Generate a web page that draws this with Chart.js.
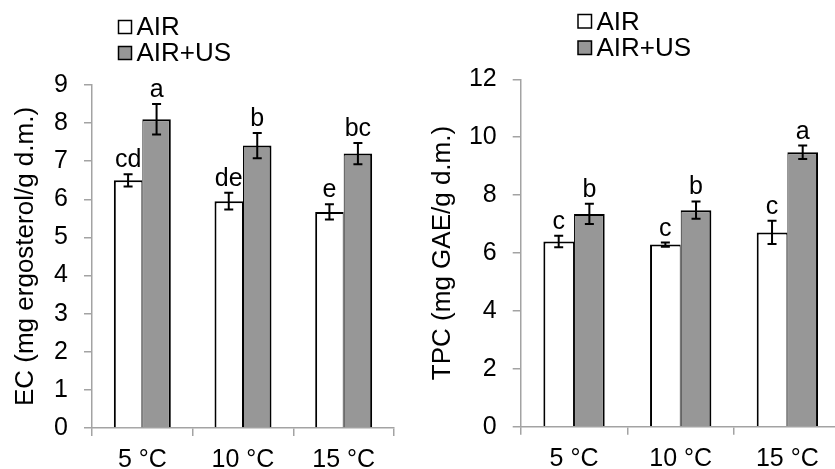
<!DOCTYPE html>
<html>
<head>
<meta charset="utf-8">
<script src="https://cdn.jsdelivr.net/npm/chart.js@4/dist/chart.umd.min.js"></script>
<style>
  html, body { margin: 0; padding: 0; background: #fff; overflow: hidden; }
  #wrap { position: relative; width: 835px; height: 469px; overflow: hidden; }
  canvas { position: absolute; top: 0; }
  #ec { left: 0; }
  #tpc { left: 420px; }
</style>
</head>
<body>
<div id="wrap">
  <canvas id="ec" width="420" height="469"></canvas>
  <canvas id="tpc" width="425" height="469"></canvas>
</div>
<script>
const categories = ['5 °C', '10 °C', '15 °C'];
const seriesNames = ['AIR', 'AIR+US'];

// EC panel
const ecAir = [6.5, 5.95, 5.67];
const ecAirErr = [0.16, 0.22, 0.2];
const ecUs = [8.1, 7.41, 7.2];
const ecUsErr = [0.4, 0.33, 0.28];
const ecAirLetters = ['cd', 'de', 'e'];
const ecUsLetters = ['a', 'b', 'bc'];

// TPC panel
const tpcAir = [6.4, 6.29, 6.71];
const tpcAirErr = [0.2, 0.07, 0.4];
const tpcUs = [7.35, 7.48, 9.48];
const tpcUsErr = [0.35, 0.3, 0.23];
const tpcAirLetters = ['c', 'c', 'c'];
const tpcUsLetters = ['b', 'b', 'a'];

const FONT = '"Liberation Sans", Arial, sans-serif';
const AXIS = '#a3a3a3';
const GRAY = '#979797';

// error bars + letters above each bar
const errorBars = {
  id: 'errorBars',
  afterDatasetsDraw(chart) {
    const ctx = chart.ctx;
    const y = chart.scales.y;
    ctx.save();
    chart.data.datasets.forEach((ds, di) => {
      const meta = chart.getDatasetMeta(di);
      meta.data.forEach((bar, i) => {
        const v = ds.data[i], e = ds.err[i];
        const yTop = y.getPixelForValue(v + e);
        const yBot = y.getPixelForValue(v - e);
        ctx.strokeStyle = '#000';
        ctx.lineWidth = 2;
        ctx.beginPath();
        ctx.moveTo(bar.x, yTop); ctx.lineTo(bar.x, yBot);
        ctx.moveTo(bar.x - 4.5, yTop); ctx.lineTo(bar.x + 4.5, yTop);
        ctx.moveTo(bar.x - 4.5, yBot); ctx.lineTo(bar.x + 4.5, yBot);
        ctx.stroke();
        ctx.fillStyle = '#000';
        ctx.font = '25px ' + FONT;
        ctx.textAlign = 'center';
        ctx.textBaseline = 'alphabetic';
        ctx.fillText(ds.letters[i], bar.x, yTop - 7);
      });
    });
    ctx.restore();
  }
};

// stacked legend drawn at the top
const stackedLegend = {
  id: 'stackedLegend',
  afterDraw(chart, args, opts) {
    const ctx = chart.ctx;
    ctx.save();
    chart.data.datasets.forEach((ds, di) => {
      const base = opts.y + di * opts.step;
      const bs = opts.box;
      ctx.fillStyle = ds.backgroundColor;
      ctx.fillRect(opts.x, base - bs - 1.5, bs, bs);
      ctx.strokeStyle = '#000';
      ctx.lineWidth = 1.5;
      ctx.strokeRect(opts.x, base - bs - 1.5, bs, bs);
      ctx.fillStyle = '#000';
      ctx.font = '26px ' + FONT;
      ctx.textAlign = 'left';
      ctx.textBaseline = 'alphabetic';
      ctx.fillText(ds.label, opts.x + bs + 5, base);
    });
    ctx.restore();
  }
};

function makeChart(id, p) {
  return new Chart(document.getElementById(id), {
    type: 'bar',
    data: {
      labels: categories,
      datasets: [
        {
          label: seriesNames[0], data: p.air, err: p.airErr, letters: p.airLetters,
          backgroundColor: '#ffffff', borderColor: '#000',
          borderWidth: { top: 2, left: 2, right: 1, bottom: 0 }
        },
        {
          label: seriesNames[1], data: p.us, err: p.usErr, letters: p.usLetters,
          backgroundColor: GRAY, borderColor: '#000',
          borderWidth: { top: 2, left: 1, right: 2, bottom: 0 }
        }
      ]
    },
    options: {
      responsive: false,
      animation: false,
      devicePixelRatio: 1,
      categoryPercentage: p.catPct,
      barPercentage: 1,
      layout: { padding: { top: p.top, right: p.right, left: 0, bottom: 0 } },
      plugins: {
        legend: { display: false },
        tooltip: { enabled: false },
        stackedLegend: { x: p.legendX, y: p.legendY, step: p.legendStep, box: p.legendBox }
      },
      scales: {
        x: {
          grid: { drawOnChartArea: false, tickLength: 8, color: AXIS, lineWidth: 1.5 },
          border: { color: AXIS, width: 1.5 },
          ticks: { color: '#000', font: { family: FONT, size: 25 }, padding: 9, maxRotation: 0 },
          afterFit(s) { s.height = p.xHeight; }
        },
        y: {
          min: 0, max: p.yMax,
          ticks: { stepSize: p.yStep, color: '#000', font: { family: FONT, size: 25 }, padding: 16 },
          grid: { drawOnChartArea: false, tickLength: 8, color: AXIS, lineWidth: 1.5 },
          border: { color: AXIS, width: 1.5 },
          title: {
            display: true, text: p.title, color: '#000',
            font: { family: FONT, size: 26 }, padding: { top: p.titlePad, bottom: 0 }
          },
          afterFit(s) { s.width = p.yWidth; }
        }
      }
    },
    plugins: [errorBars, stackedLegend]
  });
}

makeChart('ec', {
  air: ecAir, airErr: ecAirErr, airLetters: ecAirLetters,
  us: ecUs, usErr: ecUsErr, usLetters: ecUsLetters,
  yMax: 9, yStep: 1, title: 'EC (mg ergosterol/g d.m.)',
  top: 85, right: 26, xHeight: 41, yWidth: 92, titlePad: 10,
  catPct: 0.566, legendX: 118.5, legendY: 35, legendStep: 26, legendBox: 13
});

makeChart('tpc', {
  air: tpcAir, airErr: tpcAirErr, airLetters: tpcAirLetters,
  us: tpcUs, usErr: tpcUsErr, usLetters: tpcUsLetters,
  yMax: 12, yStep: 2, title: 'TPC (mg GAE/g d.m.)',
  top: 79.3, right: 4.3, xHeight: 42.3, yWidth: 100.7, titlePad: 7.4,
  catPct: 0.575, legendX: 158, legendY: 29.5, legendStep: 26.5, legendBox: 13.5
});
</script>
</body>
</html>
